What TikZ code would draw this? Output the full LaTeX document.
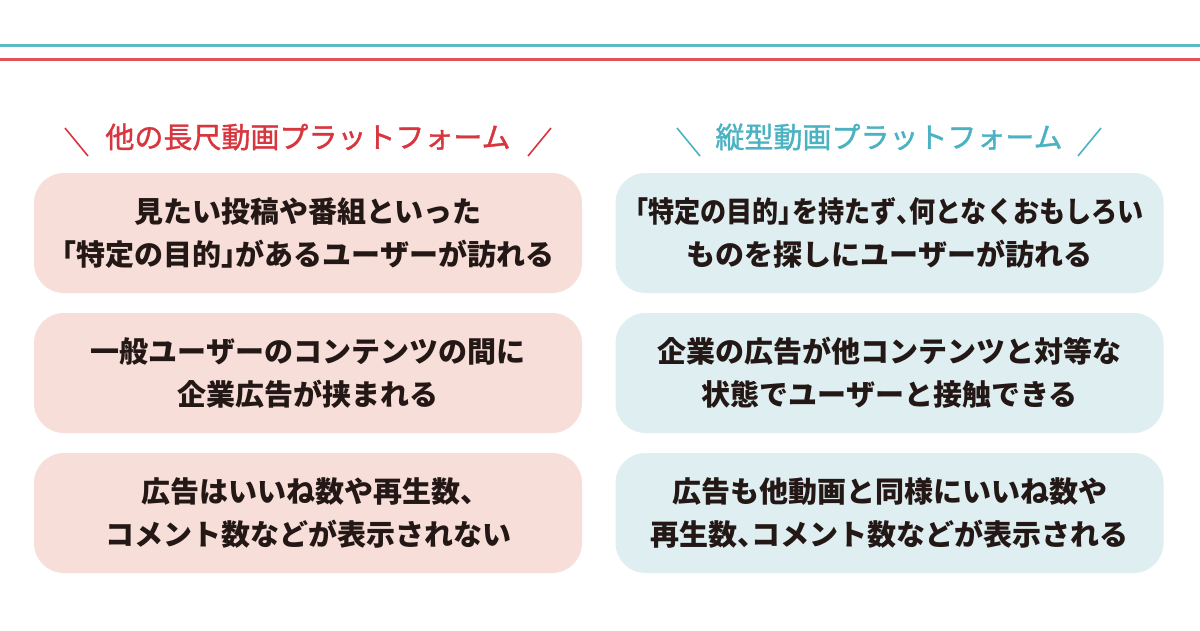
\documentclass[tikz,border=0pt]{standalone}
\usepackage{graphicx}
\usepackage{fontspec}
\newfontfamily\jp{Noto Sans CJK JP}
\newfontfamily\jph{Noto Sans CJK JP}[FakeBold=1.3]
\newcommand{\hw}[1]{{\addfontfeatures{RawFeature=+halt}#1}}
\definecolor{linered}{HTML}{E0535B}
\definecolor{lineteal}{HTML}{5BBAC6}
\definecolor{hred}{HTML}{D8363F}
\definecolor{hteal}{HTML}{4AB2C2}
\definecolor{pinkbox}{HTML}{F8DED9}
\definecolor{bluebox}{HTML}{DFEEF1}
\definecolor{ink}{HTML}{231815}
\begin{document}
\begin{tikzpicture}[x=1pt,y=-1pt,
  box/.style={rectangle, rounded corners=30pt, minimum width=548pt, minimum height=120pt,
    inner sep=0pt, align=center, text=ink, font=\jp\bfseries\fontsize{29}{43}\selectfont},
  lbox/.style={box, fill=pinkbox},
  rbox/.style={box, fill=bluebox},
  head/.style={font=\jph\fontsize{29}{34}\selectfont, inner sep=0pt},
  deco/.style={line width=1.6pt}]
\useasboundingbox (0,0) rectangle (1200,630);
\fill[white] (0,0) rectangle (1200,630);
\draw[lineteal, line width=3pt] (0,45) -- (1200,45);
\draw[linered, line width=3pt] (0,59) -- (1200,59);

% headers
\node[head, text=hred] (hl) at (308,137) {他の長尺動画プラットフォーム};
\node[head, text=hteal] (hr) at (889,137) {縦型動画プラットフォーム};
\draw[deco, hred] (65,128) -- (88,156);
\draw[deco, hred] (528,156) -- (551,128);
\draw[deco, hteal] (677,128) -- (700,156);
\draw[deco, hteal] (1078,156) -- (1101,128);

% left boxes
\node[lbox] (l1) at (308,233) {見たい投稿や番組といった\\\hw{「}特定の目的\hw{」}があるユーザーが訪れる};
\node[lbox] (l2) at (308,373) {一般ユーザーのコンテンツの間に\\企業広告が挟まれる};
\node[lbox] (l3) at (308,513) {広告はいいね数や再生数\hw{、}\\コメント数などが表示されない};

% right boxes
\node[rbox] (r1) at (889.5,233) {\scalebox{0.9}[1]{\hw{「}特定の目的\hw{」}を持たず\hw{、}何となくおもしろい}\\ものを探しにユーザーが訪れる};
\node[rbox] (r2) at (889.5,373) {企業の広告が他コンテンツと対等な\\状態でユーザーと接触できる};
\node[rbox] (r3) at (889.5,513) {広告も他動画と同様にいいね数や\\再生数\hw{、}コメント数などが表示される};
\end{tikzpicture}
\end{document}
